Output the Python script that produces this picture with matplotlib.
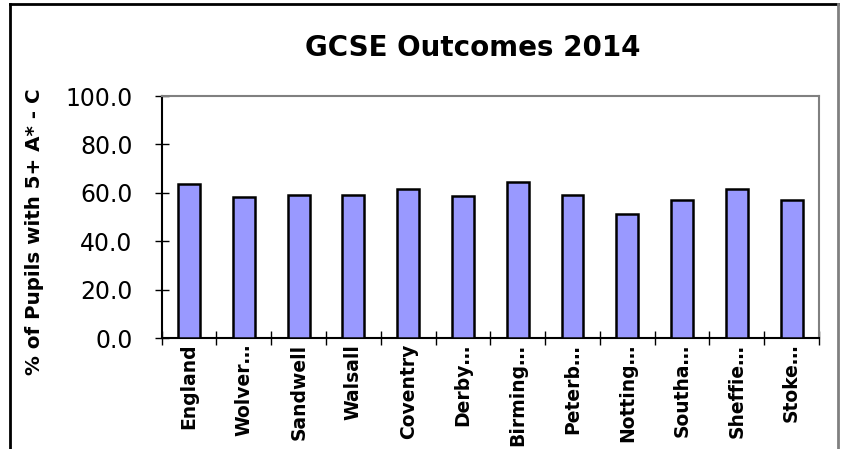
import matplotlib
matplotlib.use("Agg")
import matplotlib.pyplot as plt
from matplotlib.lines import Line2D

categories = ["England", "Wolver\u2026", "Sandwell", "Walsall", "Coventry", "Derby\u2026",
              "Birming\u2026", "Peterb\u2026", "Notting\u2026", "Southa\u2026", "Sheffie\u2026", "Stoke\u2026"]
values = [63.8, 58.3, 59.2, 59.1, 61.6, 58.8, 64.5, 59.2, 51.1, 57.1, 61.8, 57.1]
yticks = [0, 20, 40, 60, 80, 100]

W, H = 843, 449
fig = plt.figure(figsize=(W / 100, H / 100), dpi=100)
fig.patch.set_facecolor("white")

ax = fig.add_axes([161.7 / W, 1 - 338.3 / H, (819 - 161.7) / W, (338.3 - 96) / H])
x = list(range(len(categories)))
ax.bar(x, values, width=0.4, color="#9999FF", edgecolor="black", linewidth=1.8, zorder=3)
ax.set_xlim(-0.5, len(categories) - 0.5)
ax.set_ylim(0, 100)
ax.set_yticks(yticks)
ax.set_yticklabels([f"{v:.1f}" for v in yticks], fontsize=17)
ax.set_xticks(x)
ax.set_xticklabels(categories, rotation=90, fontsize=13.5, fontweight="bold", va="top", ha="center")
ax.tick_params(axis="x", length=0, pad=4)
ax.tick_params(axis="y", direction="inout", length=10, width=1, pad=16)
# category boundary ticks on x axis
ax.set_xticks([i - 0.5 for i in range(len(categories) + 1)], minor=True)
ax.tick_params(axis="x", which="minor", direction="inout", length=10, width=1)

for s in ["top", "right"]:
    ax.spines[s].set_color("#808080")
    ax.spines[s].set_linewidth(1.5)
for s in ["left", "bottom"]:
    ax.spines[s].set_color("black")
    ax.spines[s].set_linewidth(1.5)

ax.set_ylabel("% of Pupils with 5+ A* - C", fontsize=14.3, fontweight="bold")
ax.yaxis.set_label_coords(44 / W, 1 - 232 / H, transform=fig.transFigure)
fig.text(473 / W, 1 - 48 / H, "GCSE Outcomes 2014", fontsize=20, fontweight="bold",
         ha="center", va="center")

# outer frame
fig.add_artist(Line2D([10 / W, 10 / W], [0, 1 - 4 / H], transform=fig.transFigure, color="black", lw=2))
fig.add_artist(Line2D([10 / W, 838 / W], [1 - 4 / H, 1 - 4 / H], transform=fig.transFigure, color="black", lw=2))
fig.add_artist(Line2D([838 / W, 838 / W], [0, 1 - 4 / H], transform=fig.transFigure, color="#808080", lw=2))

fig.savefig("out.png", dpi=100)
